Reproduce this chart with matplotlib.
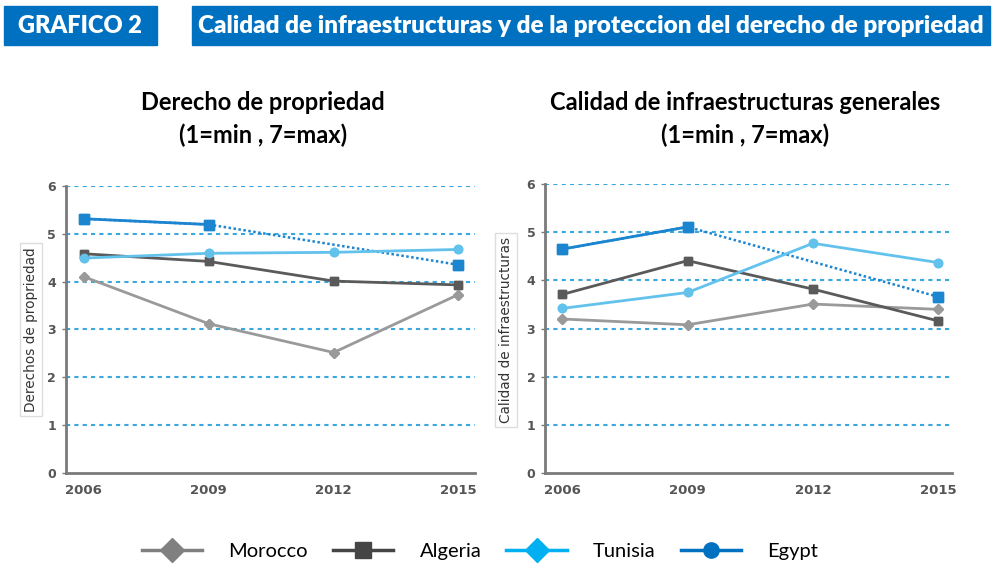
import numpy as np
import matplotlib
matplotlib.use("Agg")
import matplotlib.pyplot as plt
from matplotlib.patches import Rectangle
from matplotlib.lines import Line2D

# Data (index 1=min, 7=max).
years = ["2006", "2009", "2012", "2015"]
countries = ["Morocco", "Algeria", "Tunisia", "Egypt"]

# Derecho de propriedad
prop_morocco = [4.10, 3.12, 2.52, 3.73]
prop_algeria = [4.58, 4.42, 4.01, 3.93]
prop_tunisia = [4.49, 4.59, 4.61, 4.67]
prop_egypt = [5.31, 5.19, np.nan, 4.35]

# Calidad de infraestructuras generales
infra_morocco = [3.20, 3.08, 3.51, 3.40]
infra_algeria = [3.71, 4.41, 3.82, 3.16]
infra_tunisia = [3.42, 3.75, 4.77, 4.37]
infra_egypt = [4.65, 5.11, np.nan, 3.66]

y_ticks = [0, 1, 2, 3, 4, 5, 6]

# styles: (line colour, marker, marker size)
styles = {
    "Morocco": ("#9a9a9a", "D", 5),
    "Algeria": ("#5a5a5a", "s", 6),
    "Tunisia": ("#62c2ec", "o", 6),
    "Egypt": ("#1b85cf", "s", 7),
}
legend_styles = {
    "Morocco": ("#808080", "D", 12),
    "Algeria": ("#454545", "s", 11),
    "Tunisia": ("#00b0f0", "D", 12),
    "Egypt": ("#0070c0", "o", 11),
}

W, H = 992, 565
fig = plt.figure(figsize=(W / 100, H / 100), dpi=100)

# header boxes
blue = "#0070c0"
fig.patches.append(Rectangle((4 / W, 1 - 45 / H), 153 / W, 39 / H,
                             transform=fig.transFigure, color=blue))
fig.patches.append(Rectangle((192 / W, 1 - 45 / H), 798 / W, 39 / H,
                             transform=fig.transFigure, color=blue))
fig.text(80 / W, 1 - 26 / H, "GRAFICO 2", color="white", fontsize=17,
         fontweight="heavy", family="Lato", ha="center", va="center")
fig.text(591 / W, 1 - 26 / H,
         "Calidad de infraestructuras y de la proteccion del derecho de propriedad",
         color="white", fontsize=17.5, fontweight="heavy", family="Lato",
         ha="center", va="center")


def draw_panel(ax, series, ylabel, xlim):
    x = np.arange(len(years))
    for name, vals in zip(countries, series):
        col, mk, ms = styles[name]
        vals = np.array(vals, dtype=float)
        ok = ~np.isnan(vals)
        if not ok.all():
            # dotted bridge over the missing year
            ax.plot(x[ok], vals[ok], color=col, lw=1.8, ls=(0, (1, 1)), zorder=2)
        ax.plot(x, vals, color=col, lw=2, marker=mk, ms=ms, zorder=3)
        ax.plot(x[ok], vals[ok], ls="none", color=col, marker=mk, ms=ms, zorder=4)

    ax.set_ylim(0, 6)
    ax.set_xlim(*xlim)
    ax.set_xticks(x)
    ax.set_xticklabels(years)
    ax.set_yticks(y_ticks)
    for v in y_ticks[1:]:
        ax.axhline(v, color="#3aa8dc", lw=1.5, ls=(0, (2, 2)), zorder=1)
    for s in ["top", "right"]:
        ax.spines[s].set_visible(False)
    for s in ["left", "bottom"]:
        ax.spines[s].set_color("#7a7a7a")
        ax.spines[s].set_linewidth(2)
    ax.tick_params(axis="y", length=3, width=1, color="#7a7a7a", pad=4,
                   labelsize=9, labelcolor="#555555")
    ax.tick_params(axis="x", length=0, pad=8, labelsize=9.5, labelcolor="#555555")
    for lbl in ax.get_xticklabels() + ax.get_yticklabels():
        lbl.set_fontweight("bold")
    ax.set_ylabel(ylabel, fontsize=9.8, color="#333333",
                  bbox=dict(facecolor="white", edgecolor="#dddddd", pad=3))


ax1 = fig.add_axes([65.7 / W, 1 - 473.3 / H, 409 / W, 287.6 / H])
draw_panel(ax1, [prop_morocco, prop_algeria, prop_tunisia, prop_egypt],
           "Derechos de propriedad", (-0.146, 3.13))
ax1.yaxis.set_label_coords(-0.068, 0.50)

ax2 = fig.add_axes([545 / W, 1 - 473.3 / H, 406.7 / W, 289.3 / H])
draw_panel(ax2, [infra_morocco, infra_algeria, infra_tunisia, infra_egypt],
           "Calidad de infraestructuras", (-0.138, 3.107))
ax2.yaxis.set_label_coords(-0.079, 0.495)

# panel titles
for cx, title in [(263, "Derecho de propriedad"),
                  (745, "Calidad de infraestructuras generales")]:
    fig.text(cx / W, 1 - 103 / H, title, fontsize=17, fontweight="bold",
             family="Lato", ha="center", va="center")
    fig.text(cx / W, 1 - 135 / H, "(1=min , 7=max)", fontsize=17,
             fontweight="bold", family="Lato", ha="center", va="center")

# legend
handles = []
for name in countries:
    col, mk, ms = legend_styles[name]
    handles.append(Line2D([], [], color=col, lw=2.5, marker=mk, ms=ms))
fig.legend(handles, countries, loc="center", bbox_to_anchor=(480 / W, 1 - 551 / H),
           ncol=4, frameon=False, handlelength=3.0, handletextpad=1.3,
           columnspacing=1.25, numpoints=1,
           prop={"family": "Lato", "size": 14.5})

fig.savefig("out.png", dpi=100)
